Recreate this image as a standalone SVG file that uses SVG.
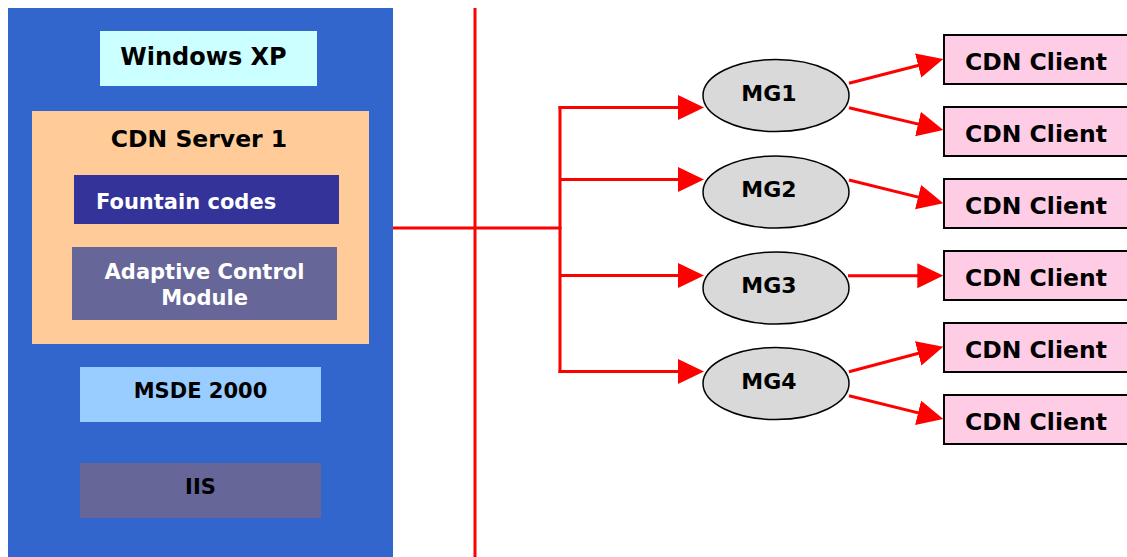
<svg xmlns="http://www.w3.org/2000/svg" width="1127" height="557" viewBox="0 0 1127 557">
<style>
text{font-family:"DejaVu Sans","Liberation Sans",sans-serif;font-weight:bold;}
.t21{font-size:21px;}
.t22{font-size:22px;}
.t235{font-size:23.5px;}
.t24{font-size:24px;}
.c{text-anchor:middle;}
.w{fill:#ffffff;}
.k{fill:#000000;}
.ln{stroke:#ff0000;stroke-width:3;fill:none;}
.mg{fill:#d9d9d9;stroke:#000;stroke-width:1.5;}
.cl{fill:#ffcce6;stroke:#000;stroke-width:2;}
</style>
<defs>
<marker id="ah" markerUnits="userSpaceOnUse" markerWidth="26" markerHeight="26" refX="20" refY="12.5" orient="auto">
<path d="M0,0 L26,12.5 L0,25 z" fill="#ff0000"/>
</marker>
</defs>
<rect width="1127" height="557" fill="#ffffff"/>
<g id="server-panel">
<rect x="8" y="8" width="385" height="560" fill="#3366cc"/>
</g>
<g id="windows-xp">
<rect x="100" y="31" width="217" height="55" fill="#ccffff"/>
<text x="203.5" y="65" class="t24 c k">Windows XP</text>
</g>
<g id="cdn-server">
<rect x="32" y="111" width="337" height="233" fill="#ffcc99"/>
<text x="199" y="147" class="t235 c k">CDN Server 1</text>
</g>
<g id="fountain-codes">
<rect x="74" y="175" width="265" height="49" fill="#333399"/>
<text x="96" y="209" class="t21 w">Fountain codes</text>
</g>
<g id="adaptive-control">
<rect x="72" y="247" width="265" height="73" fill="#666699"/>
<text x="204.5" y="279" class="t21 c w">Adaptive Control</text>
<text x="204.5" y="305" class="t21 c w">Module</text>
</g>
<g id="msde">
<rect x="80" y="367" width="241" height="55" fill="#99ccff"/>
<text x="200.5" y="398" class="t21 c k">MSDE 2000</text>
</g>
<g id="iis">
<rect x="80" y="463" width="241" height="55" fill="#666699"/>
<text x="200.5" y="494" class="t21 c k">IIS</text>
</g>
<g id="connectors">
<line x1="475" y1="8" x2="475" y2="557" class="ln"/>
<line x1="393" y1="228" x2="561.5" y2="228" class="ln"/>
<line x1="560" y1="106" x2="560" y2="373" class="ln"/>
<line x1="558.5" y1="107.5" x2="698" y2="107.5" class="ln" marker-end="url(#ah)"/>
<line x1="560" y1="179.5" x2="698" y2="179.5" class="ln" marker-end="url(#ah)"/>
<line x1="560" y1="275.5" x2="698" y2="275.5" class="ln" marker-end="url(#ah)"/>
<line x1="558.5" y1="371.5" x2="698" y2="371.5" class="ln" marker-end="url(#ah)"/>
<line x1="849" y1="83.3" x2="937.5" y2="60.5" class="ln" marker-end="url(#ah)"/>
<line x1="849" y1="107.7" x2="937.5" y2="128.6" class="ln" marker-end="url(#ah)"/>
<line x1="849" y1="180" x2="937.5" y2="201.9" class="ln" marker-end="url(#ah)"/>
<line x1="848" y1="275.7" x2="937.3" y2="275.7" class="ln" marker-end="url(#ah)"/>
<line x1="849" y1="371.7" x2="937.5" y2="348.2" class="ln" marker-end="url(#ah)"/>
<line x1="849" y1="395.7" x2="937.5" y2="417.6" class="ln" marker-end="url(#ah)"/>
</g>
<g id="mg1">
<ellipse cx="776" cy="95.5" rx="73" ry="36" class="mg"/>
<text x="769" y="101" class="t22 c k">MG1</text>
</g>
<g id="mg2">
<ellipse cx="776" cy="192" rx="73" ry="36" class="mg"/>
<text x="769" y="197" class="t22 c k">MG2</text>
</g>
<g id="mg3">
<ellipse cx="776" cy="288" rx="73" ry="36" class="mg"/>
<text x="769" y="293" class="t22 c k">MG3</text>
</g>
<g id="mg4">
<ellipse cx="776" cy="383.5" rx="73" ry="36" class="mg"/>
<text x="769" y="389" class="t22 c k">MG4</text>
</g>
<g id="client1"><rect x="944" y="35" width="190" height="49" class="cl"/><text x="965" y="70" class="t235 k">CDN Client</text></g>
<g id="client2"><rect x="944" y="107" width="190" height="49" class="cl"/><text x="965" y="142" class="t235 k">CDN Client</text></g>
<g id="client3"><rect x="944" y="179" width="190" height="49" class="cl"/><text x="965" y="214" class="t235 k">CDN Client</text></g>
<g id="client4"><rect x="944" y="251" width="190" height="49" class="cl"/><text x="965" y="286" class="t235 k">CDN Client</text></g>
<g id="client5"><rect x="944" y="323" width="190" height="49" class="cl"/><text x="965" y="358" class="t235 k">CDN Client</text></g>
<g id="client6"><rect x="944" y="395" width="190" height="49" class="cl"/><text x="965" y="430" class="t235 k">CDN Client</text></g>
</svg>
